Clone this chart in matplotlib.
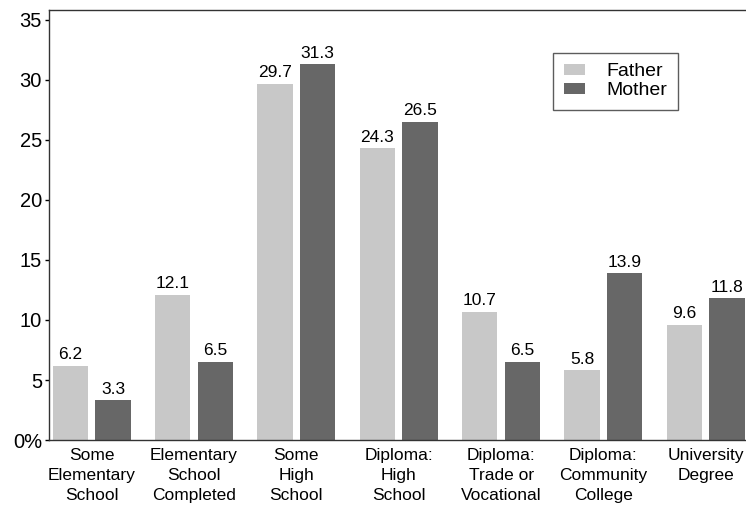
import numpy as np
import matplotlib
matplotlib.use("Agg")
import matplotlib.pyplot as plt

plt.rcParams['font.family'] = ['Liberation Sans', 'DejaVu Sans']

categories = ['Some\nElementary\nSchool', 'Elementary\nSchool\nCompleted',
              'Some\nHigh\nSchool', 'Diploma:\nHigh\nSchool',
              'Diploma:\nTrade or\nVocational', 'Diploma:\nCommunity\nCollege',
              'University\nDegree']
father = [6.2, 12.1, 29.7, 24.3, 10.7, 5.8, 9.6]
mother = [3.3, 6.5, 31.3, 26.5, 6.5, 13.9, 11.8]
yticks = [0, 5, 10, 15, 20, 25, 30, 35]
ytick_labels = ['0%', '5', '10', '15', '20', '25', '30', '35']

fig = plt.figure(figsize=(7.46, 5.12), dpi=100)
ax = fig.add_axes([0.0657, 0.1406, 0.9343, 0.8399])

x = np.arange(len(categories))
off = 0.2085
w = 0.345
b1 = ax.bar(x - off, father, w, color='#c8c8c8', label='Father')
b2 = ax.bar(x + off, mother, w, color='#676767', label='Mother')

for bars, vals in ((b1, father), (b2, mother)):
    for r, v in zip(bars, vals):
        ax.text(r.get_x() + r.get_width() / 2, v + 0.3, '%.1f' % v,
                ha='center', va='bottom', fontsize=12.5)

ax.set_xlim(-0.417, 6.393)
ax.set_ylim(0, 35.83)
ax.set_yticks(yticks)
ax.set_yticklabels(ytick_labels, fontsize=14.5)
ax.set_xticks(x)
ax.set_xticklabels(categories, fontsize=12.5, linespacing=1.4)
ax.tick_params(axis='x', length=0, pad=6)
ax.tick_params(axis='y', length=3, width=1, pad=2)

ax.spines['right'].set_visible(False)
for s in ('left', 'top', 'bottom'):
    ax.spines[s].set_linewidth(1)
    ax.spines[s].set_color('#333333')

leg = ax.legend(loc='upper left', bbox_to_anchor=(0.7235, 0.901), fontsize=14,
                frameon=True, fancybox=False, handlelength=1.1, handleheight=0.5,
                handletextpad=1.1, borderpad=0.55, labelspacing=0.1,
                borderaxespad=0)
leg.get_frame().set_edgecolor('#333333')
leg.get_frame().set_linewidth(1)

fig.savefig('out.png', dpi=100)
